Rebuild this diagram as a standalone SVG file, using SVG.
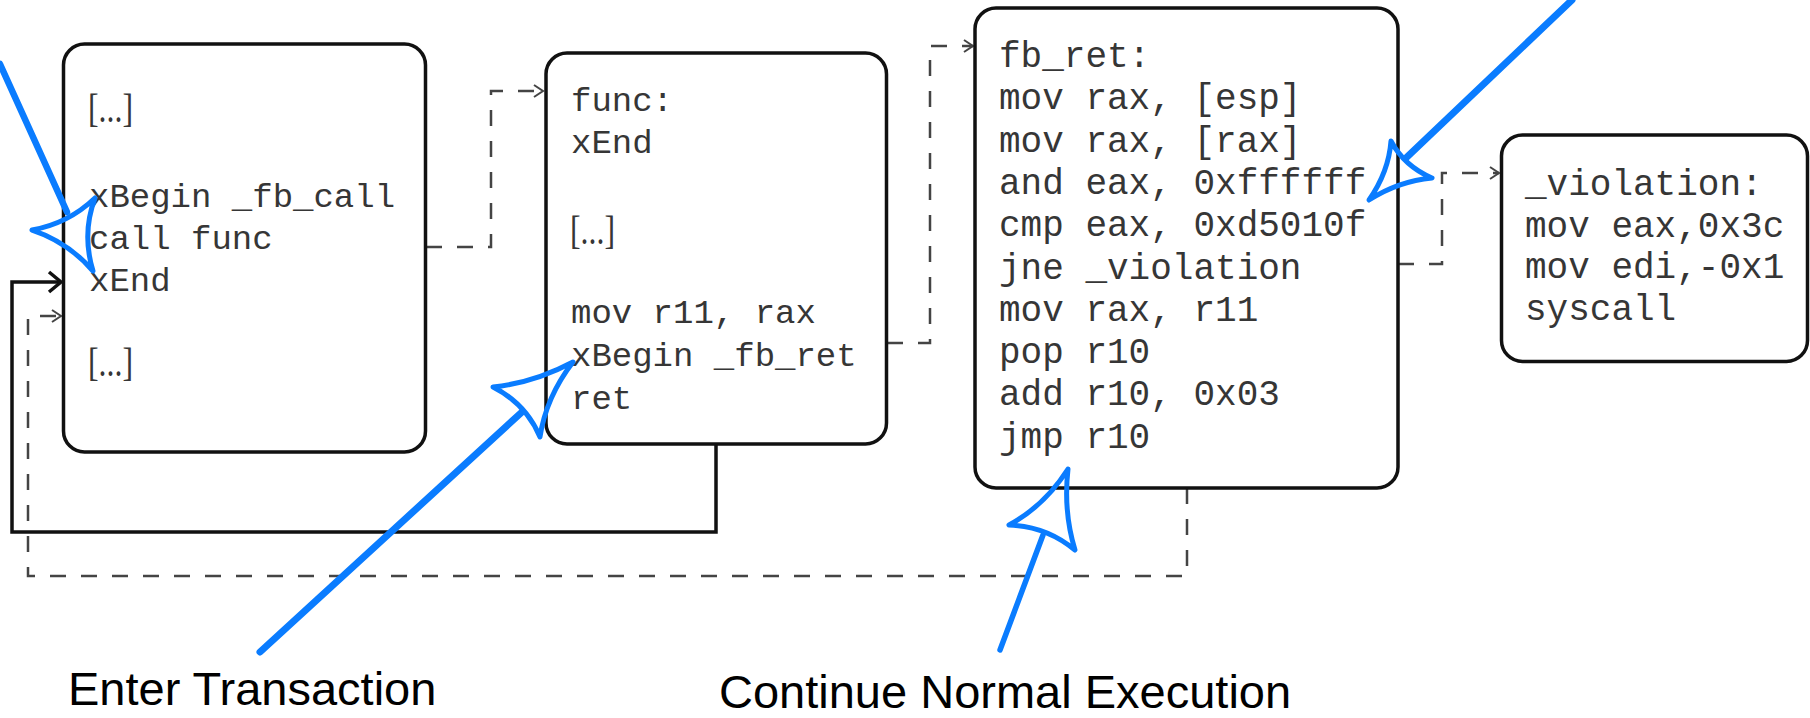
<svg xmlns="http://www.w3.org/2000/svg" width="1810" height="718" viewBox="0 0 1810 718">
  <style>
    .box { fill: #ffffff; stroke: #111111; stroke-width: 3.5; }
    .code { font-family: "Liberation Mono", "Courier New", monospace; fill: #363636; }
    .c34 { font-size: 34px; }
    .c36 { font-size: 36px; }
    .dots { font-family: "Liberation Serif", "Times New Roman", serif; font-size: 40px; fill: #363636; }
    .dash { fill: none; stroke: #444444; stroke-width: 2.5; stroke-dasharray: 16 15; }
    .solid { fill: none; stroke: #111111; stroke-width: 3.5; }
    .pen { fill: none; stroke: #0a7cff; stroke-linecap: round; stroke-linejoin: round; }
    .label { font-family: "Liberation Sans", Arial, sans-serif; font-size: 47px; fill: #000000; }
  </style>
  <defs>
    <marker id="chev" markerUnits="userSpaceOnUse" refX="0" refY="0" orient="auto" overflow="visible">
      <path d="M-9,-6 L0,0 L-9,6" fill="none" stroke="#444444" stroke-width="2"/>
    </marker>
    <marker id="chevSolid" markerUnits="userSpaceOnUse" refX="0" refY="0" orient="auto" overflow="visible">
      <path d="M-12,-10 L0,0 L-12,10" fill="none" stroke="#111111" stroke-width="3.5"/>
    </marker>
  </defs>

  <rect width="1810" height="718" fill="#ffffff"/>

  <!-- control-flow connectors -->
  <g id="connectors">
    <path class="dash" d="M426,247 H491 V91 H543" marker-end="url(#chev)"/>
    <path class="dash" d="M887,343 H930 V46 H973" marker-end="url(#chev)"/>
    <path class="dash" d="M1398,264 H1442 V173 H1499" marker-end="url(#chev)"/>
    <path class="dash" d="M1187,488 V576 H28 V316 H61" marker-end="url(#chev)"/>
    <path class="solid" d="M716,444 V532 H12 V282 H61" marker-end="url(#chevSolid)"/>
  </g>

  <!-- caller block -->
  <g id="caller">
    <rect class="box" x="63.5" y="44" width="362" height="408" rx="21"/>
    <text class="dots" x="88" y="122" textLength="45" lengthAdjust="spacingAndGlyphs">[...]</text>
    <text class="code c34" x="89" y="207">xBegin _fb_call</text>
    <text class="code c34" x="89" y="249">call func</text>
    <text class="code c34" x="89" y="291">xEnd</text>
    <text class="dots" x="88" y="376" textLength="45" lengthAdjust="spacingAndGlyphs">[...]</text>
  </g>

  <!-- callee block -->
  <g id="func">
    <rect class="box" x="546" y="53" width="340.5" height="391" rx="21"/>
    <text class="code c34" x="571" y="111">func:</text>
    <text class="code c34" x="571" y="153">xEnd</text>
    <text class="dots" x="570" y="244" textLength="45" lengthAdjust="spacingAndGlyphs">[...]</text>
    <text class="code c34" x="571" y="323">mov r11, rax</text>
    <text class="code c34" x="571" y="366">xBegin _fb_ret</text>
    <text class="code c34" x="571" y="409">ret</text>
  </g>

  <!-- return check block -->
  <g id="fb_ret">
    <rect class="box" x="975" y="8" width="423" height="480" rx="21"/>
    <text class="code c36" x="999" y="67">fb_ret:</text>
    <text class="code c36" x="999" y="109.3">mov rax, [esp]</text>
    <text class="code c36" x="999" y="151.6">mov rax, [rax]</text>
    <text class="code c36" x="999" y="193.9">and eax, 0xffffff</text>
    <text class="code c36" x="999" y="236.2">cmp eax, 0xd5010f</text>
    <text class="code c36" x="999" y="278.5">jne _violation</text>
    <text class="code c36" x="999" y="320.8">mov rax, r11</text>
    <text class="code c36" x="999" y="363.1">pop r10</text>
    <text class="code c36" x="999" y="405.4">add r10, 0x03</text>
    <text class="code c36" x="999" y="447.7">jmp r10</text>
  </g>

  <!-- violation handler -->
  <g id="violation">
    <rect class="box" x="1501.5" y="135" width="306" height="226.5" rx="21"/>
    <text class="code c36" x="1525" y="195">_violation:</text>
    <text class="code c36" x="1525" y="236.7">mov eax,0x3c</text>
    <text class="code c36" x="1525" y="278.4">mov edi,-0x1</text>
    <text class="code c36" x="1525" y="320">syscall</text>
  </g>

  <!-- hand-drawn pointers -->
  <g id="pointer-call">
    <path class="pen" stroke-width="6.5" d="M0,64 L67,212"/>
    <path class="pen" stroke-width="5" d="M32,230 Q68.4,223.5 95,198 Q81.6,233.6 93,271 Q67.9,241.8 32,230 Z"/>
  </g>
  <g id="pointer-enter">
    <path class="pen" stroke-width="7" d="M260,652 L522,412"/>
    <path class="pen" stroke-width="5" d="M573,362 Q533.9,382.8 493,387 Q525.9,403.7 540,437 Q545.9,397.4 573,362 Z"/>
  </g>
  <g id="pointer-continue">
    <path class="pen" stroke-width="5.5" d="M1000,650 L1043,535"/>
    <path class="pen" stroke-width="5" d="M1068,469 Q1044.6,505.8 1009,525 Q1046.3,526.1 1075,550 Q1063.2,511.6 1068,469 Z"/>
  </g>
  <g id="pointer-check">
    <path class="pen" stroke-width="7" d="M1572,0 L1407,157"/>
    <path class="pen" stroke-width="5" d="M1369,200 Q1388.7,171.8 1391,141 Q1404.4,166.3 1432,178 Q1398.9,181 1369,200 Z"/>
  </g>

  <g id="labels">
    <text class="label" x="68" y="705">Enter Transaction</text>
    <text class="label" x="719" y="708">Continue Normal Execution</text>
  </g>
</svg>
